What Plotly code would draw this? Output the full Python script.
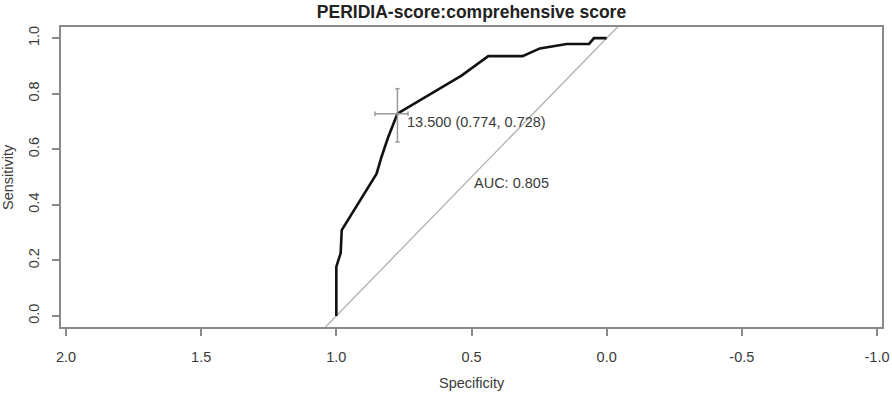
import plotly.graph_objects as go

# ROC curve (specificity, sensitivity)
specificity = [1.0, 1.0, 0.984, 0.98, 0.851, 0.833, 0.808, 0.774, 0.537, 0.438,
               0.311, 0.247, 0.148, 0.065, 0.047, 0.0]
sensitivity = [0.0, 0.177, 0.226, 0.309, 0.512, 0.572, 0.644, 0.728, 0.865, 0.935,
               0.935, 0.963, 0.979, 0.979, 1.0, 1.0]

# Best threshold and its confidence intervals
thr_label = "13.500 (0.774, 0.728)"
thr_spec, thr_sens = 0.774, 0.728
spec_ci = [0.857, 0.735]
sens_ci = [0.626, 0.818]
auc_label = "AUC: 0.805"

# chance diagonal (abline a=1, b=-1)
diag_x = [1.04, -0.04]
diag_y = [-0.04, 1.04]

x_ticks = [2.0, 1.5, 1.0, 0.5, 0.0, -0.5, -1.0]
y_ticks = [0.0, 0.2, 0.4, 0.6, 0.8, 1.0]

FONT = "Liberation Sans, Arial, Helvetica, sans-serif"
TXT = "#3a3a3a"
BOX = "#8a8a8a"
CI = "#9a9a9a"

fig = go.Figure()

fig.add_trace(go.Scatter(x=diag_x, y=diag_y, mode="lines",
                         line=dict(color="#b0b0b0", width=1.3),
                         hoverinfo="skip", showlegend=False))

fig.add_trace(go.Scatter(x=specificity, y=sensitivity, mode="lines",
                         line=dict(color="#111111", width=2.6),
                         showlegend=False))

cap_x = 0.008
cap_y = 0.008
ci_x = [spec_ci[0], spec_ci[1], None,
        spec_ci[0], spec_ci[0], None, spec_ci[1], spec_ci[1], None,
        thr_spec, thr_spec, None,
        thr_spec - cap_x, thr_spec + cap_x, None, thr_spec - cap_x, thr_spec + cap_x]
ci_y = [thr_sens, thr_sens, None,
        thr_sens - cap_y, thr_sens + cap_y, None, thr_sens - cap_y, thr_sens + cap_y, None,
        sens_ci[0], sens_ci[1], None,
        sens_ci[0], sens_ci[0], None, sens_ci[1], sens_ci[1]]
fig.add_trace(go.Scatter(x=ci_x, y=ci_y, mode="lines",
                         line=dict(color=CI, width=1.5),
                         hoverinfo="skip", showlegend=False))

fig.add_annotation(x=thr_spec, y=thr_sens, text=thr_label, showarrow=False,
                   xanchor="left", yanchor="top", xshift=8, yshift=2,
                   font=dict(family=FONT, size=14.5, color=TXT))
fig.add_annotation(x=0.5, y=0.5, text=auc_label, showarrow=False,
                   xanchor="left", yanchor="top", xshift=0, yshift=4,
                   font=dict(family=FONT, size=14.5, color=TXT))

fig.add_annotation(xref="paper", yref="paper", x=0.5, y=-0.187,
                   text="Specificity", showarrow=False,
                   xanchor="center", yanchor="middle",
                   font=dict(family=FONT, size=14.5, color=TXT))
fig.add_annotation(xref="paper", yref="paper", x=-0.0646, y=0.5,
                   text="Sensitivity", showarrow=False, textangle=-90,
                   xanchor="center", yanchor="middle",
                   font=dict(family=FONT, size=14.5, color=TXT))

W, H = 892, 396
fig.update_layout(
    width=W, height=H,
    margin=dict(l=61, r=10, t=27, b=69, autoexpand=False),
    paper_bgcolor="white", plot_bgcolor="white",
    title=dict(text="<b>PERIDIA-score:comprehensive score</b>",
               x=471.5 / W, xanchor="center", y=1 - 12 / H, yanchor="middle",
               xref="container", yref="container", automargin=False,
               font=dict(family=FONT, size=17.5, color="#222222")),
    font=dict(family=FONT, size=14.5, color=TXT),
)

fig.update_xaxes(range=[2.0185, -1.0185], tickvals=x_ticks,
                 ticktext=[f"{v:.1f}" for v in x_ticks],
                 showgrid=False, zeroline=False, automargin=False,
                 showline=True, mirror=True, linecolor=BOX, linewidth=2,
                 ticks="outside", ticklen=7, tickwidth=1.5, tickcolor=BOX,
                 ticklabelstandoff=9, ticklabeloverflow="allow",
                 tickfont=dict(family=FONT, size=14.5, color=TXT))
fig.update_yaxes(range=[-0.04, 1.04], tickvals=y_ticks,
                 ticktext=[f"{v:.1f}" for v in y_ticks],
                 showgrid=False, zeroline=False, automargin=False,
                 showline=True, mirror=True, linecolor=BOX, linewidth=2,
                 ticks="outside", ticklen=7, tickwidth=1.5, tickcolor=BOX,
                 tickangle=-90, ticklabelstandoff=7, ticklabeloverflow="allow",
                 tickfont=dict(family=FONT, size=14.5, color=TXT))

# remove the browser's default 8px body margin so the figure sits at the page origin
fig.write_html("out.html",
               config={"displayModeBar": False},
               post_script="document.body.style.margin='0';document.body.style.overflow='hidden';")
